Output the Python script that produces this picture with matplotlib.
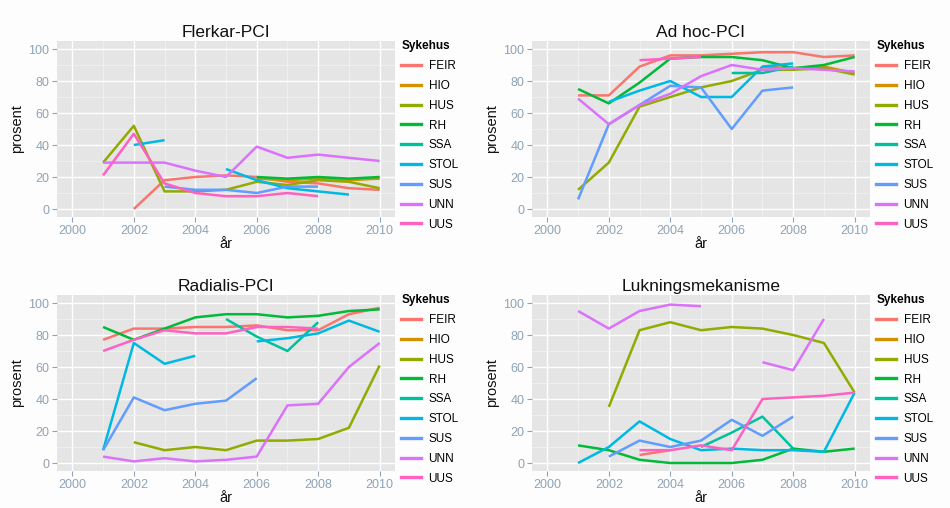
import numpy as np
import matplotlib
matplotlib.use("Agg")
import matplotlib.pyplot as plt
from matplotlib.lines import Line2D

nan = np.nan
years = [2001, 2002, 2003, 2004, 2005, 2006, 2007, 2008, 2009, 2010]
hospitals = ["FEIR", "HIO", "HUS", "RH", "SSA", "STOL", "SUS", "UNN", "UUS"]
colors = ["#F8766D", "#D39200", "#93AA00", "#00BA38", "#00C19F",
          "#00B9E3", "#619CFF", "#DB72FB", "#FF61C3"]
titles = ["Flerkar-PCI", "Ad hoc-PCI", "Radialis-PCI", "Lukningsmekanisme"]
x_ticks = [2000, 2002, 2004, 2006, 2008, 2010]
y_ticks = [0, 20, 40, 60, 80, 100]

flerkar = {
    "FEIR": [nan, 0, 18, 20, 21, 20, 17, 16, 13, 12],
    "HIO":  [nan, nan, nan, nan, nan, 19, 18, 19, 18, 19],
    "HUS":  [29, 52, 11, 11, 12, 17, 15, 18, 17, 13],
    "RH":   [nan, nan, nan, nan, nan, 20, 19, 20, 19, 20],
    "SSA":  [nan] * 10,
    "STOL": [nan, 40, 43, nan, 25, 18, 13, 11, 9, nan],
    "SUS":  [nan, nan, 14, 12, 12, 10, 14, 14, nan, nan],
    "UNN":  [29, 29, 29, 24, 20, 39, 32, 34, 32, 30],
    "UUS":  [21, 47, 16, 10, 8, 8, 10, 8, nan, nan],
}
adhoc = {
    "FEIR": [71, 71, 89, 96, 96, 97, 98, 98, 95, 96],
    "HIO":  [nan, nan, nan, nan, nan, nan, 89, 88, 89, 85],
    "HUS":  [12, 29, 64, 70, 76, 80, 87, 87, 88, 84],
    "RH":   [75, 66, 79, 94, 95, 95, 93, 88, 90, 95],
    "SSA":  [nan, nan, nan, nan, nan, 85, 85, 89, nan, nan],
    "STOL": [nan, 67, 74, 80, 70, 70, 89, 91, nan, nan],
    "SUS":  [6, 53, 65, 77, 76, 50, 74, 76, nan, nan],
    "UNN":  [69, 53, 65, 72, 83, 90, 87, 88, 87, 86],
    "UUS":  [nan, nan, 93, 94, 95, nan, nan, nan, nan, nan],
}
radialis = {
    "FEIR": [77, 84, 84, 85, 85, 86, 83, 83, 93, 97],
    "HIO":  [nan] * 10,
    "HUS":  [nan, 13, 8, 10, 8, 14, 14, 15, 22, 61],
    "RH":   [85, 77, 84, 91, 93, 93, 91, 92, 95, 96],
    "SSA":  [nan, nan, nan, nan, 90, 79, 70, 88, nan, nan],
    "STOL": [8, 75, 62, 67, nan, 76, 78, 81, 89, 82],
    "SUS":  [8, 41, 33, 37, 39, 53, nan, nan, nan, nan],
    "UNN":  [4, 1, 3, 1, 2, 4, 36, 37, 60, 75],
    "UUS":  [70, 77, 83, 81, 81, 85, 85, 84, nan, nan],
}
lukning = {
    "FEIR": [nan, nan, 5, 8, nan, nan, nan, nan, nan, nan],
    "HIO":  [nan] * 10,
    "HUS":  [nan, 35, 83, 88, 83, 85, 84, 80, 75, 44],
    "RH":   [11, 8, 2, 0, 0, 0, 2, 9, 7, 9],
    "SSA":  [nan, nan, nan, nan, 10, 19, 29, 9, nan, nan],
    "STOL": [0, 10, 26, 15, 8, 9, 8, 8, 7, 44],
    "SUS":  [nan, 4, 14, 10, 14, 27, 17, 29, nan, nan],
    "UNN":  [95, 84, 95, 99, 98, nan, 63, 58, 90, nan],
    "UUS":  [nan, nan, 8, 8, 11, 8, 40, 41, 42, 44],
}
panels = [flerkar, adhoc, radialis, lukning]

plt.rcParams["font.family"] = ["Liberation Sans", "DejaVu Sans"]

W, H = 950, 508
fig = plt.figure(figsize=(W / 100, H / 100), dpi=100)
fig.patch.set_facecolor("#FDFDFD")

# axes boxes in pixels: (left, top, right, bottom)
boxes = [(57, 41, 395, 217), (532, 41, 870, 217),
         (57, 295, 395, 471), (532, 295, 870, 471)]

tick_col = "#8FA3B6"
for data, title, (l, t, r, b) in zip(panels, titles, boxes):
    ax = fig.add_axes([l / W, 1 - b / H, (r - l) / W, (b - t) / H])
    ax.set_facecolor("#E5E5E5")
    for sp in ax.spines.values():
        sp.set_visible(False)
    ax.set_xlim(1999.5, 2010.5)
    ax.set_ylim(-5, 105)
    ax.set_xticks(x_ticks)
    ax.set_yticks(y_ticks)
    ax.set_xticks([2001, 2003, 2005, 2007, 2009], minor=True)
    ax.set_yticks([10, 30, 50, 70, 90], minor=True)
    ax.grid(which="major", color="white", linewidth=1.0)
    ax.grid(which="minor", color="#F2F2F2", linewidth=0.6)
    ax.set_axisbelow(True)
    ax.tick_params(which="major", length=3.5, width=0.8, color=tick_col,
                   labelcolor=tick_col, labelsize=9, pad=2)
    ax.tick_params(which="minor", length=0)
    for name, col in zip(hospitals, colors):
        ax.plot(years, data[name], color=col, linewidth=1.8,
                solid_capstyle="butt", label=name)
    ax.set_title(title, fontsize=12.5, pad=3, color="#111111")
    ax.set_xlabel("år", fontsize=10.5, labelpad=0, color="#111111")
    ax.set_ylabel("prosent", fontsize=10.5, labelpad=3, color="#111111")
    handles = [Line2D([0], [0], color=c, linewidth=2.4) for c in colors]
    leg = ax.legend(handles, hospitals, loc="upper left",
                    bbox_to_anchor=(1.005, 1.03), frameon=False,
                    title="Sykehus", fontsize=8.5, handlelength=1.7,
                    handletextpad=0.6, labelspacing=0.66,
                    borderaxespad=0.0)
    leg.get_title().set_fontweight("bold")
    leg.get_title().set_fontsize(8.5)
    leg._legend_box.align = "left"

fig.savefig("out.png", dpi=100, facecolor=fig.get_facecolor())
